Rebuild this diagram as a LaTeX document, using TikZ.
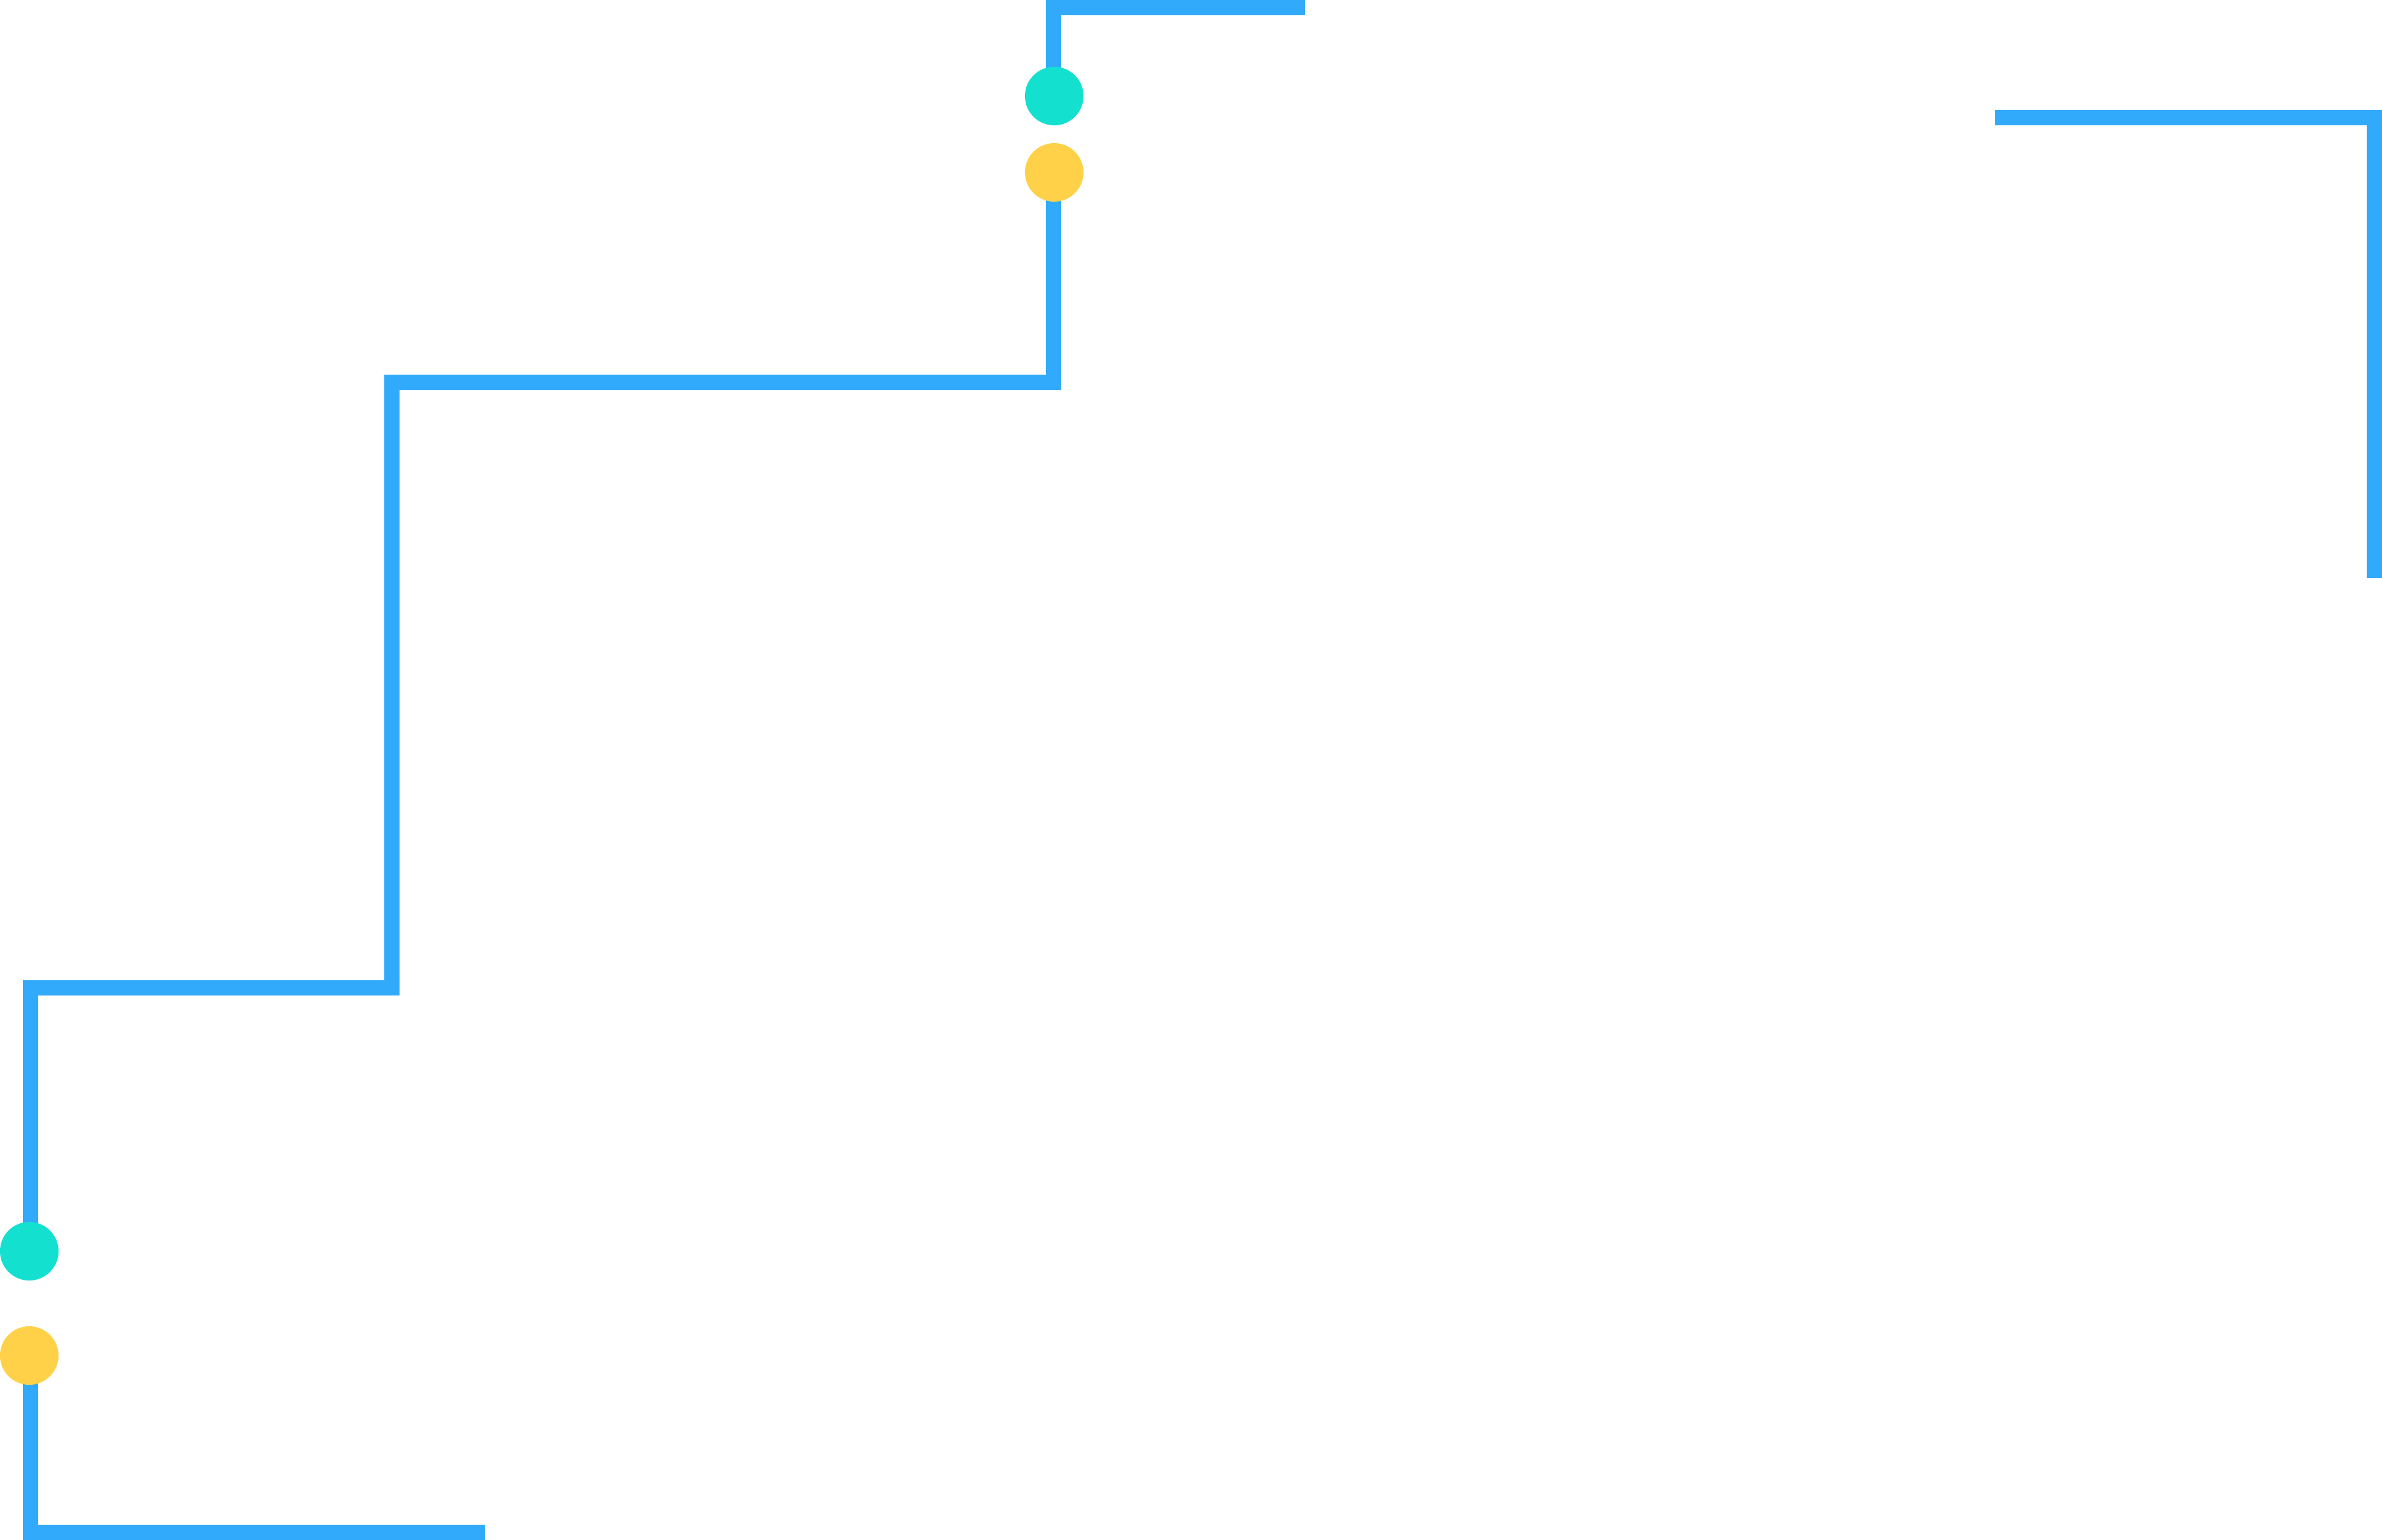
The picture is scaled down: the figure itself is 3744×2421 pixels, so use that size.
\documentclass[tikz,border=0pt]{standalone}
\usepackage{tikz}
\usetikzlibrary{positioning}
\definecolor{wireblue}{RGB}{49,170,251}
\definecolor{dotteal}{RGB}{20,224,208}
\definecolor{dotyellow}{RGB}{254,209,72}
\pgfdeclarelayer{background}
\pgfsetlayers{background,main}

\begin{document}
\begin{tikzpicture}[x=0.01cm,y=-0.01cm,
wire/.style={draw=wireblue,line width=0.24cm,line cap=butt,line join=miter},
dot/.style={circle,inner sep=0pt,minimum size=0.92cm}]
\useasboundingbox (0,0) rectangle (3744,2421);

% dots
\node (tealtop) [dot,fill=dotteal] at (1657,151) {};
\node (yellowtop) [dot,fill=dotyellow] at (1657,271) {};
\node (tealbot) [dot,fill=dotteal] at (46,1967) {};
\node (yellowbot) [dot,fill=dotyellow] at (46,2131) {};

% stair line
\coordinate (topend) at (2051,12);
\coordinate (c1) at (1656,12);
\coordinate (c2) at (1656,601);
\coordinate (c3) at (616,601);
\coordinate (c4) at (616,1553);
\coordinate (c5) at (48,1553);
\coordinate (c6) at (48,2409);
\coordinate (botend) at (762,2409);

% corner at the right
\coordinate (rstart) at (3136,185);
\coordinate (rcorner) at (3732,185);
\coordinate (rend) at (3732,909);

\begin{pgfonlayer}{background}
\draw [wire] (topend) -- (c1) -- (c1 |- tealtop.center);
\draw [wire] (c2 |- yellowtop.center) -- (c2) -- (c3) -- (c4) -- (c5) -- (c5 |- tealbot.center);
\draw [wire] (c6 |- yellowbot.center) -- (c6) -- (botend);
\draw [wire] (rstart) -- (rcorner) -- (rend);
\end{pgfonlayer}
\end{tikzpicture}
\end{document}
